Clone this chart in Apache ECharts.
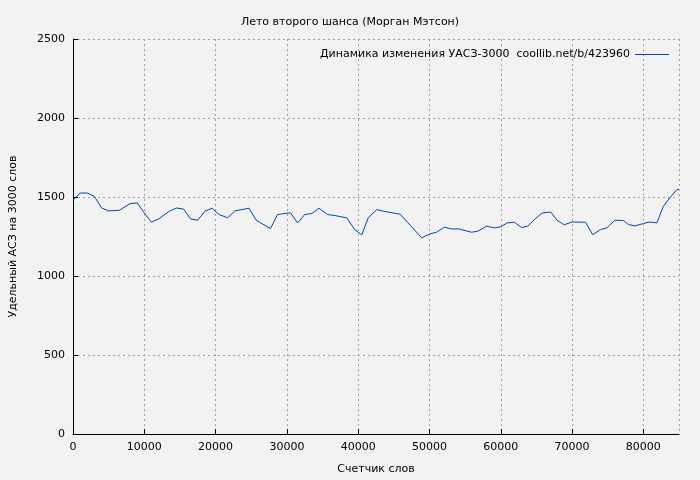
<!DOCTYPE html>
<html><head><meta charset="utf-8">
<script src="https://cdn.jsdelivr.net/npm/echarts@6/dist/echarts.min.js"></script>
<style>html,body{margin:0;padding:0;background:#f2f2f2}#c{width:700px;height:480px}</style>
</head><body><div id="c"></div>
<script>
// счетчик слов / удельный АСЗ
var words = [0,1000,2000,3000,4000,5000,6500,8000,9000,10000,11000,12000,13500,14500,15500,16500,17500,18500,19500,20500,21700,22700,24700,25700,27700,28700,30500,31500,32500,33500,34500,35700,36800,38400,39500,40500,41400,42600,43800,45900,47000,48900,50100,51000,52100,53100,54100,55900,56800,58000,59100,60000,60900,61900,62900,63800,64700,65800,67000,67900,68900,70000,71900,72900,74000,74900,76000,77200,77900,78800,80000,80900,81900,82800,83700,84700,85000];
var asz = [1479,1525,1525,1504,1431,1412,1416,1458,1462,1400,1340,1361,1410,1430,1424,1361,1353,1410,1429,1389,1368,1412,1429,1353,1300,1389,1400,1336,1389,1395,1429,1389,1382,1368,1294,1260,1368,1420,1408,1391,1336,1242,1267,1277,1309,1298,1298,1277,1284,1315,1305,1311,1336,1340,1307,1315,1357,1399,1405,1353,1324,1342,1340,1262,1294,1305,1353,1351,1326,1317,1332,1342,1336,1441,1494,1546,1550];
var seriesName = 'Динамика изменения УАСЗ-3000  coollib.net/b/423960';

var pts = words.map(function(w,i){return [w,asz[i]];});
var font = 'DejaVu Sans';
var plain = function(v){return String(v);};
var myChart = echarts.init(document.getElementById('c'));
var option = {
	backgroundColor:'#f2f2f2',
	animation:false,
	textStyle:{fontFamily:font},
	title:{
		text:'Лето второго шанса (Морган Мэтсон)',
		left:'center', top:12,
		textStyle:{fontSize:11,fontWeight:'normal',color:'#000',fontFamily:font}
	},
	legend:{
		data:[seriesName], right:26, top:44, itemWidth:34, itemHeight:1, itemGap:10,
		align:'right', icon:'rect',
		textStyle:{fontSize:11,color:'#000',fontFamily:font}
	},
	grid:{left:68,right:21,top:39,bottom:46},
	xAxis:{
		type:'value', min:0, max:85000, interval:10000,
		name:'Счетчик слов', nameLocation:'middle', nameGap:30,
		nameTextStyle:{fontSize:11,color:'#000'},
		axisLine:{lineStyle:{color:'#000'}},
		axisTick:{inside:true,lineStyle:{color:'#000'}},
		axisLabel:{fontSize:11,color:'#000',showMaxLabel:false,formatter:plain},
		splitLine:{show:true,lineStyle:{type:[2,3],color:'#a0a0a0'}}
	},
	yAxis:{
		type:'value', min:0, max:2500, interval:500,
		name:'Удельный АСЗ на 3000 слов', nameLocation:'middle', nameGap:54,
		nameTextStyle:{fontSize:11,color:'#000'},
		axisLine:{show:true,lineStyle:{color:'#000'}},
		axisTick:{show:true,inside:true,lineStyle:{color:'#000'}},
		axisLabel:{fontSize:11,color:'#000',formatter:plain},
		splitLine:{show:true,lineStyle:{type:[2,3],color:'#a0a0a0'}}
	},
	series:[{
		name:seriesName, type:'line', data:pts, showSymbol:false,
		lineStyle:{width:1,color:'#0046b4'}, itemStyle:{color:'#0046b4'}
	}]
};
myChart.setOption(option);
</script></body></html>
